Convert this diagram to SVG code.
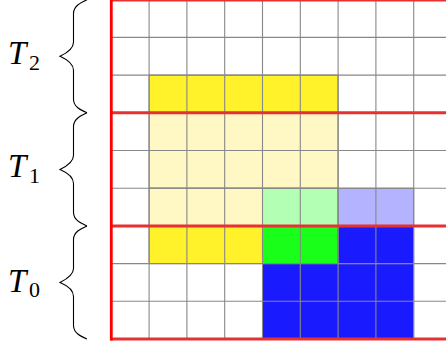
<svg xmlns="http://www.w3.org/2000/svg" width="446" height="347" viewBox="0 0 446 347">
<style>
.grid line{stroke:#888;stroke-width:1.1}
.cell{stroke:#777;stroke-width:1}
.brace{fill:none;stroke:#000;stroke-width:1.1}
.redv{stroke:#ff0000;stroke-width:2.8}
.redh{stroke:#e83030;stroke-width:3}
.lbl{font-family:"Liberation Serif",serif;font-style:italic;font-size:33px;fill:#000}
.sub{font-family:"Liberation Serif",serif;font-size:22px;fill:#000}
</style>
<rect width="446" height="347" fill="#fff"/>
<g id="cells">
<rect class="cell" x="149.1" y="75.1" width="189" height="37.7" fill="#fff12a"/>
<rect class="cell" x="149.1" y="112.8" width="189" height="75.4" fill="#fff8c4"/>
<rect class="cell" x="149.1" y="188.2" width="113.4" height="37.7" fill="#fff8c4"/>
<rect class="cell" x="262.5" y="188.2" width="75.6" height="37.7" fill="#b3ffb3"/>
<rect class="cell" x="338.1" y="188.2" width="75.6" height="37.7" fill="#b3b3ff"/>
<rect class="cell" x="149.1" y="225.9" width="113.4" height="37.7" fill="#fff12a"/>
<rect class="cell" x="262.5" y="225.9" width="75.6" height="37.7" fill="#1aff1a"/>
<rect class="cell" x="338.1" y="225.9" width="75.6" height="37.7" fill="#1a1aff"/>
<rect class="cell" x="262.5" y="263.6" width="151.2" height="75.4" fill="#1a1aff"/>
</g>
<g id="grid" class="grid">
<line x1="149.1" y1="0" x2="149.1" y2="339"/>
<line x1="186.9" y1="0" x2="186.9" y2="339"/>
<line x1="224.7" y1="0" x2="224.7" y2="339"/>
<line x1="262.5" y1="0" x2="262.5" y2="339"/>
<line x1="300.3" y1="0" x2="300.3" y2="339"/>
<line x1="338.1" y1="0" x2="338.1" y2="339"/>
<line x1="375.9" y1="0" x2="375.9" y2="339"/>
<line x1="413.7" y1="0" x2="413.7" y2="339"/>
<line x1="111.3" y1="37.4" x2="446" y2="37.4"/>
<line x1="111.3" y1="75.1" x2="446" y2="75.1"/>
<line x1="111.3" y1="150.5" x2="446" y2="150.5"/>
<line x1="111.3" y1="188.2" x2="446" y2="188.2"/>
<line x1="111.3" y1="263.6" x2="446" y2="263.6"/>
<line x1="111.3" y1="301.3" x2="446" y2="301.3"/>
</g>
<g id="time-boxes">
<line class="redh" x1="110" y1="0" x2="446" y2="0"/>
<line class="redh" x1="110" y1="112.8" x2="446" y2="112.8"/>
<line class="redh" x1="110" y1="225.9" x2="446" y2="225.9"/>
<line class="redh" x1="110" y1="339" x2="446" y2="339"/>
<line class="redv" x1="111.3" y1="-1" x2="111.3" y2="340.5"/>
</g>
<g id="brace-T2">
<path class="brace" d="M87,-0.3 C80,3 74,6 73.5,13 L73.5,42.3 C73.5,49 66,53.5 60,56.3 C66,59 73.5,63.5 73.5,70.3 L73.5,99.8 C74,106.8 80,109.8 87,112.8"/>
<text class="lbl" x="8" y="64.3">T</text><text class="sub" x="29" y="70">2</text>
</g>
<g id="brace-T1">
<path class="brace" d="M87,112.8 C80,116 74,119 73.5,126 L73.5,155.4 C73.5,162 66,166.5 60,169.4 C66,172 73.5,176.5 73.5,183.4 L73.5,212.9 C74,219.9 80,222.9 87,225.9"/>
<text class="lbl" x="8" y="177.3">T</text><text class="sub" x="29" y="183">1</text>
</g>
<g id="brace-T0">
<path class="brace" d="M87,225.9 C80,229 74,232 73.5,239 L73.5,268.5 C73.5,275 66,279.5 60,282.5 C66,285 73.5,289.5 73.5,296.5 L73.5,326 C74,333 80,336 87,339"/>
<text class="lbl" x="8" y="291.7">T</text><text class="sub" x="29" y="297">0</text>
</g>
</svg>
